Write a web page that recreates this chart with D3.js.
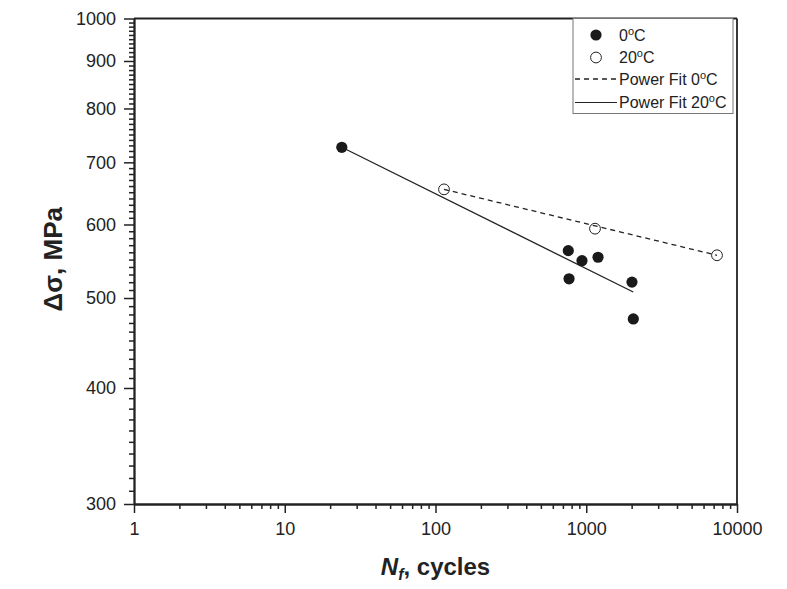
<!DOCTYPE html>
<html><head><meta charset="utf-8">
<script src="https://cdn.jsdelivr.net/npm/d3@7"></script>
<style>body{margin:0;background:#fff}svg{display:block}</style>
</head><body>
<script>
// Data
const nf0 = [23.9, 760, 937, 1197, 769, 2011, 2052];
const ds0 = [726.6, 562.3, 548.5, 553.2, 524.4, 520.1, 474.7];
const nf20 = [113.9, 1143, 7366];
const ds20 = [654.6, 593.8, 555.9];
const fit0N = [113.9, 7366];
const fit0S = [654.6, 555.9];
const fit20N = [23.9, 2050];
const fit20S = [726.6, 507.5];
const xTicks = [1, 10, 100, 1000, 10000];
const yTicks = [300, 400, 500, 600, 700, 800, 900, 1000];
const legendLabels = ["0", "20", "Power Fit 0", "Power Fit 20"];

const W = 787, H = 589;
const L = 134, R = 737, T = 18.5, B = 504;
const ink = "#222";
const font = "Arial, 'Liberation Sans', sans-serif";

const svg = d3.select("body").append("svg").attr("width", W).attr("height", H);

const x = d3.scaleLog().domain([1, 10000]).range([L, R]);
const y = d3.scaleLog().domain([300, 1000]).range([B, T]);

// minor ticks
const xMinor = [];
for (let i = 0; i < xTicks.length - 1; i++) for (let k = 2; k <= 9; k++) xMinor.push(xTicks[i] * k);
const yMinor = d3.range(310, 1000, 10).filter(v => v % 100 !== 0);

function styleAxis(g) {
  g.selectAll("path.domain").attr("stroke", ink).attr("stroke-width", 1.8);
  g.selectAll(".tick line").attr("stroke", ink).attr("stroke-width", 1.5);
  g.selectAll(".tick text").attr("fill", ink).style("font-family", font).style("font-size", "18px");
}

// x minor
svg.append("g").attr("transform", `translate(0,${B})`)
  .call(d3.axisBottom(x).tickValues(xMinor).tickSize(5).tickSizeOuter(0).tickFormat(""))
  .call(styleAxis);
svg.append("g").attr("transform", `translate(0,${B})`)
  .call(d3.axisBottom(x).tickValues(xTicks).tickSize(9).tickSizeOuter(0).tickPadding(9).tickFormat(d3.format("d")))
  .call(styleAxis);
// y minor
svg.append("g").attr("transform", `translate(${L},0)`)
  .call(d3.axisLeft(y).tickValues(yMinor).tickSize(5).tickSizeOuter(0).tickFormat(""))
  .call(styleAxis);
svg.append("g").attr("transform", `translate(${L},0)`)
  .call(d3.axisLeft(y).tickValues(yTicks).tickSize(10).tickSizeOuter(0).tickPadding(8).tickFormat(d3.format("d")))
  .call(styleAxis);

// frame top & right
svg.append("line").attr("x1", L).attr("x2", R).attr("y1", T).attr("y2", T).attr("stroke", ink).attr("stroke-width", 1.8);
svg.append("line").attr("x1", R).attr("x2", R).attr("y1", T).attr("y2", B).attr("stroke", ink).attr("stroke-width", 1.8);

// fit lines
const line = d3.line().x(d => x(d[0])).y(d => y(d[1]));
svg.append("path").datum(fit20N.map((n, i) => [n, fit20S[i]]))
  .attr("d", line).attr("fill", "none").attr("stroke", ink).attr("stroke-width", 1.3);
svg.append("path").datum(fit0N.map((n, i) => [n, fit0S[i]]))
  .attr("d", line).attr("fill", "none").attr("stroke", ink).attr("stroke-width", 1.3).attr("stroke-dasharray", "5,4");

// points
svg.append("g").selectAll("circle").data(nf0.map((n, i) => [n, ds0[i]])).join("circle")
  .attr("cx", d => x(d[0])).attr("cy", d => y(d[1])).attr("r", 5.6).attr("fill", "#1a1a1a");
svg.append("g").selectAll("circle").data(nf20.map((n, i) => [n, ds20[i]])).join("circle")
  .attr("cx", d => x(d[0])).attr("cy", d => y(d[1])).attr("r", 5.4).attr("fill", "none").attr("stroke", ink).attr("stroke-width", 1);

// axis titles
const xt = svg.append("text").attr("x", (L + R) / 2).attr("y", 575).attr("text-anchor", "middle")
  .style("font-family", font).style("font-size", "24px").style("font-weight", "bold").attr("fill", ink);
xt.append("tspan").style("font-style", "italic").text("N");
xt.append("tspan").style("font-style", "italic").style("font-size", "16px").attr("dy", 5).text("f");
xt.append("tspan").attr("dy", -5).text(", cycles");

svg.append("text").attr("transform", `translate(62,${(T + B) / 2 - 2}) rotate(-90)`).attr("text-anchor", "middle")
  .style("font-family", font).style("font-size", "26px").style("font-weight", "bold").attr("fill", ink)
  .text("Δσ, MPa");

// legend
const lg = svg.append("g");
lg.append("rect").attr("x", 573).attr("y", T).attr("width", 160).attr("height", 95)
  .attr("fill", "#fff").attr("stroke", "#777").attr("stroke-width", 1);
const rows = [41, 63, 85, 108];
lg.append("circle").attr("cx", 596).attr("cy", 35).attr("r", 5.6).attr("fill", "#1a1a1a");
lg.append("circle").attr("cx", 596).attr("cy", 57.5).attr("r", 5.4).attr("fill", "none").attr("stroke", ink).attr("stroke-width", 1);
lg.append("line").attr("x1", 575).attr("x2", 617).attr("y1", 79).attr("y2", 79).attr("stroke", ink).attr("stroke-width", 1.3).attr("stroke-dasharray", "5,4");
lg.append("line").attr("x1", 575).attr("x2", 617).attr("y1", 102.5).attr("y2", 102.5).attr("stroke", ink).attr("stroke-width", 1.1);
legendLabels.forEach((lab, i) => {
  const t = lg.append("text").attr("x", 619).attr("y", rows[i])
    .style("font-family", font).style("font-size", "16px").attr("fill", ink);
  t.append("tspan").text(lab);
  t.append("tspan").attr("dy", -6).style("font-size", "11px").text("o");
  t.append("tspan").attr("dy", 6).text("C");
});
</script>
</body></html>
